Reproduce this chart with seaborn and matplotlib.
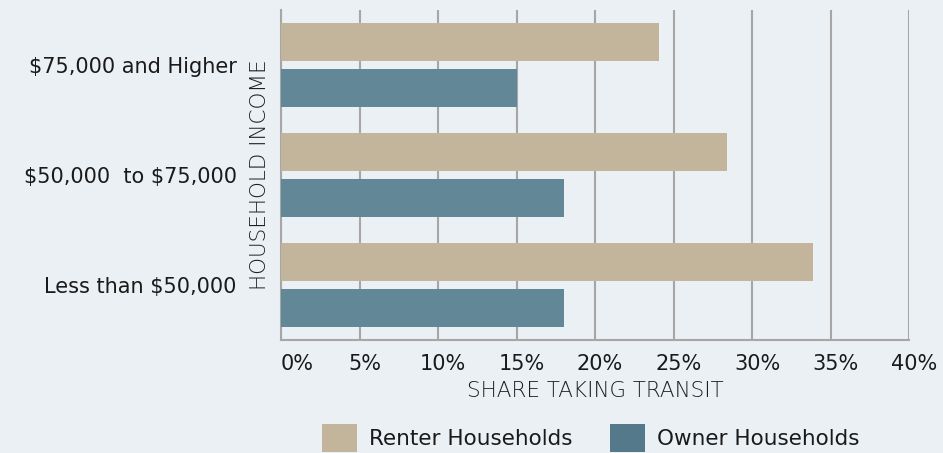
import matplotlib
matplotlib.use("Agg")
import matplotlib.pyplot as plt
import matplotlib.transforms as mtrans
from matplotlib.patches import Patch
import seaborn as sns
import pandas as pd

categories = ["$75,000 and Higher", "$50,000  to $75,000", "Less than $50,000"]
series = ["Renter Households", "Owner Households"]
renter = [24.1, 28.4, 33.9]
owner = [15.0, 18.0, 18.0]
x_ticks = [0, 5, 10, 15, 20, 25, 30, 35, 40]
x_tick_labels = ["0%", "5%", "10%", "15%", "20%", "25%", "30%", "35%", "40%"]

bg = "#EBF0F4"
bar_colors = {"Renter Households": "#C3B59B", "Owner Households": "#628796"}
legend_colors = ["#C3B59B", "#54798A"]
grid_col = "#A6A6A6"

df = pd.DataFrame({
    "income": categories * 2,
    "share": renter + owner,
    "tenure": [series[0]] * 3 + [series[1]] * 3,
})

sns.set_theme(style="white")
plt.rcParams["font.family"] = ["DejaVu Sans"]
plt.rcParams["text.parse_math"] = False

fig = plt.figure(figsize=(9.43, 4.53), dpi=100, facecolor=bg)
ax = fig.add_axes([281 / 943, 1 - 340 / 453, (909 - 281) / 943, 330 / 453])
ax.set_facecolor(bg)

sns.barplot(data=df, y="income", x="share", hue="tenure", order=categories,
            hue_order=series, palette=bar_colors, orient="h", width=0.84,
            gap=0.19, saturation=1, ax=ax, legend=False, zorder=3,
            linewidth=0, edgecolor="none")

ax.set_xlim(0, 40)
ax.set_ylim(2.5, -0.5)
ax.set_xticks(x_ticks)
ax.set_xticklabels(x_tick_labels, fontsize=15, color="#1a1a1a")
ax.grid(axis="x", color=grid_col, linewidth=1.5, zorder=0)
ax.grid(axis="y", visible=False)
ax.set_axisbelow(True)
for s in ["top", "right"]:
    ax.spines[s].set_visible(False)
for s in ["left", "bottom"]:
    ax.spines[s].set_color(grid_col)
    ax.spines[s].set_linewidth(1.5)
ax.tick_params(axis="both", length=0)
ax.tick_params(axis="x", pad=10)
ax.tick_params(axis="y", pad=32, labelsize=15, labelcolor="#1a1a1a")

offset = mtrans.ScaledTranslation(5 / 100, 0, fig.dpi_scale_trans)
for i, lab in enumerate(ax.get_xticklabels()):
    if i == 0:
        lab.set_horizontalalignment("left")
    else:
        lab.set_transform(lab.get_transform() + offset)

ax.set_xlabel("SHARE TAKING TRANSIT", fontsize=15.5, color="#1f1f1f",
              fontweight="light", labelpad=5)
ax.set_ylabel("HOUSEHOLD INCOME", fontsize=15.5, color="#1f1f1f",
              fontweight="light")
ax.yaxis.set_label_coords(-0.017, 0.5)

handles = [Patch(facecolor=c, edgecolor="none") for c in legend_colors]
fig.legend(handles, series, loc="center", bbox_to_anchor=(591 / 943, 1 - 438 / 453),
           ncol=2, frameon=False, fontsize=15.5, handlelength=1.63, handleheight=1.63,
           handletextpad=0.56, columnspacing=1.72, labelcolor="#1a1a1a")

fig.savefig("out.png", dpi=100, facecolor=bg)
